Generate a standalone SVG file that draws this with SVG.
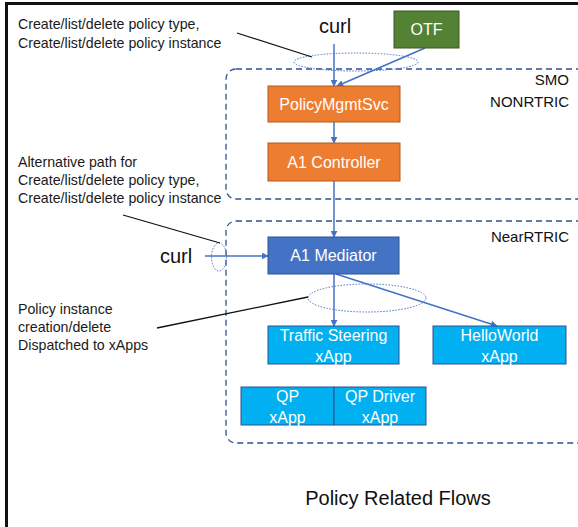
<svg xmlns="http://www.w3.org/2000/svg" width="578" height="527" viewBox="0 0 578 527">
<defs>
<marker id="ah" viewBox="0 0 10 10" refX="9" refY="5" markerWidth="7" markerHeight="7" orient="auto" markerUnits="userSpaceOnUse">
<path d="M0,0 L10,5 L0,10 z" fill="#4472C4"/>
</marker>
<style>
text{font-family:"Liberation Sans",Arial,sans-serif}
.lbl{font-size:14.2px;fill:#1a1a1a}
.nt{font-size:16px;fill:#ffffff;text-anchor:middle}
.big{font-size:20px;fill:#111}
.gl{font-size:15px;fill:#111;text-anchor:end}
.grp{fill:none;stroke:#2F528F;stroke-width:1.3;stroke-dasharray:6,4}
.ell{fill:none;stroke:#4472C4;stroke-width:1;stroke-dasharray:1.5,1.5}
.con{stroke:#4472C4;stroke-width:1.5;fill:none;marker-end:url(#ah)}
.call{stroke:#111;stroke-width:1.3;fill:none}
.orange{fill:#ED7D31;stroke:#AE5A21;stroke-width:1}
.blue{fill:#4472C4;stroke:#2F528F;stroke-width:1}
.cyan{fill:#00B0F0;stroke:#2F528F;stroke-width:1}
.green{fill:#548235;stroke:#385723;stroke-width:1}
</style>
</defs>
<rect width="578" height="527" fill="#ffffff"/>
<path d="M6.5,527 V3.5 H578" fill="none" stroke="#111" stroke-width="3"/>

<g id="smo-group">
<rect class="grp" x="226" y="69" width="362" height="130" rx="10"/>
<text class="gl" x="569" y="85">SMO</text>
<text class="gl" x="569" y="107">NONRTRIC</text>
</g>
<g id="nearrtric-group">
<rect class="grp" x="226" y="221" width="362" height="222" rx="10"/>
<text class="gl" x="569" y="242">NearRTRIC</text>
</g>

<g id="annotations">
<ellipse class="ell" cx="356" cy="62" rx="62" ry="9"/>
<ellipse class="ell" cx="219" cy="257" rx="7.5" ry="14"/>
<ellipse class="ell" cx="367" cy="298" rx="59" ry="14"/>
<line class="call" x1="237" y1="33" x2="312" y2="57"/>
<line class="call" x1="123" y1="215" x2="220" y2="243"/>
<line class="call" x1="157" y1="328" x2="308" y2="297"/>
<text class="lbl" x="18" y="29">Create/list/delete policy type,</text>
<text class="lbl" x="18" y="48">Create/list/delete policy instance</text>
<text class="lbl" x="18" y="167">Alternative path for</text>
<text class="lbl" x="18" y="185">Create/list/delete policy type,</text>
<text class="lbl" x="18" y="203">Create/list/delete policy instance</text>
<text class="lbl" x="18" y="314">Policy instance</text>
<text class="lbl" x="18" y="332">creation/delete</text>
<text class="lbl" x="18" y="350">Dispatched to xApps</text>
</g>

<g id="connectors">
<line class="con" x1="334" y1="44" x2="334" y2="86"/>
<line class="con" x1="425" y1="48" x2="337" y2="86"/>
<line class="con" x1="334" y1="122" x2="334" y2="143"/>
<line class="con" x1="334" y1="181" x2="334" y2="237"/>
<line class="con" x1="205" y1="256" x2="268" y2="256"/>
<line class="con" x1="334" y1="274" x2="334" y2="326"/>
<line class="con" x1="336" y1="274" x2="497" y2="326"/>
</g>

<g id="curl-top"><text class="big" x="335" y="33" text-anchor="middle">curl</text></g>
<g id="curl-left"><text class="big" x="176" y="263" text-anchor="middle">curl</text></g>

<g id="otf"><rect class="green" x="394" y="11" width="65" height="37"/><text class="nt" x="426.5" y="35">OTF</text></g>
<g id="policymgmtsvc"><rect class="orange" x="268" y="86" width="132" height="36"/><text class="nt" x="334" y="110">PolicyMgmtSvc</text></g>
<g id="a1-controller"><rect class="orange" x="268" y="143" width="132" height="38"/><text class="nt" x="334" y="168">A1 Controller</text></g>
<g id="a1-mediator"><rect class="blue" x="268" y="237" width="131" height="37"/><text class="nt" x="333.5" y="261">A1 Mediator</text></g>
<g id="traffic-steering"><rect class="cyan" x="268" y="326" width="131" height="38"/><text class="nt" x="333.5" y="341">Traffic Steering</text><text class="nt" x="333.5" y="362">xApp</text></g>
<g id="helloworld"><rect class="cyan" x="433" y="326" width="133" height="38"/><text class="nt" x="499.5" y="341">HelloWorld</text><text class="nt" x="499.5" y="362">xApp</text></g>
<g id="qp"><rect class="cyan" x="241" y="387" width="93" height="38"/><text class="nt" x="287.5" y="402">QP</text><text class="nt" x="287.5" y="423">xApp</text></g>
<g id="qp-driver"><rect class="cyan" x="334" y="387" width="92" height="38"/><text class="nt" x="380" y="402">QP Driver</text><text class="nt" x="380" y="423">xApp</text></g>

<g id="title"><text class="big" x="398" y="505" text-anchor="middle" font-size="19">Policy Related Flows</text></g>
</svg>
